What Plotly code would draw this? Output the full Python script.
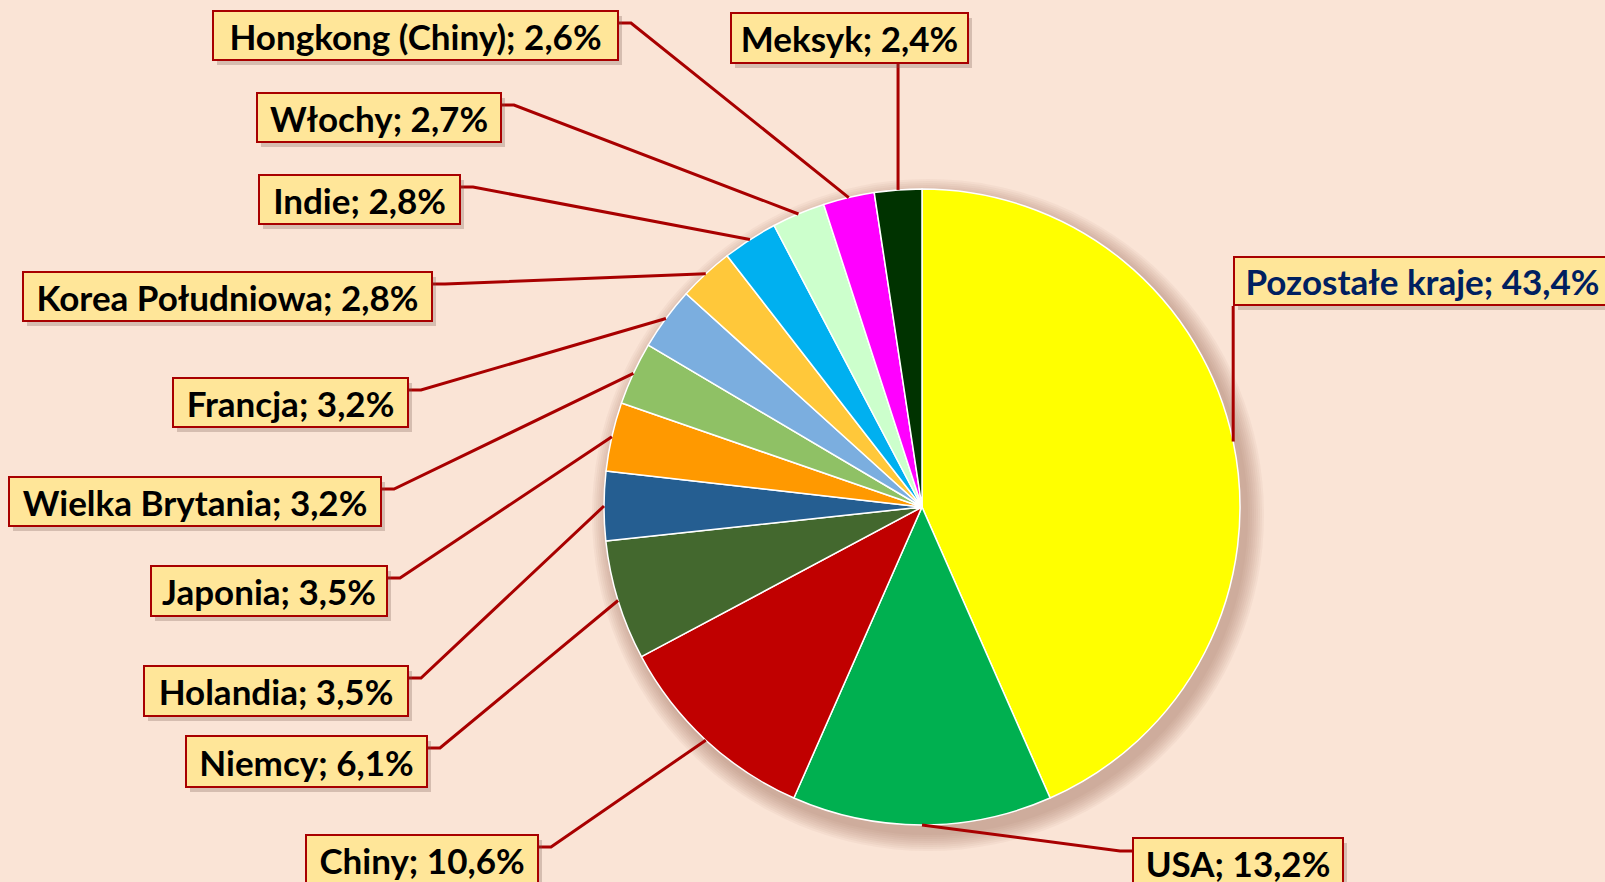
import math
import plotly.graph_objects as go

W, H = 1605, 882

# dane: udział w światowym eksporcie
countries = ["Pozostałe kraje", "USA", "Chiny", "Niemcy", "Holandia", "Japonia",
             "Wielka Brytania", "Francja", "Korea Południowa", "Indie", "Włochy",
             "Hongkong (Chiny)", "Meksyk"]
shares = [43.4, 13.2, 10.6, 6.1, 3.5, 3.5, 3.2, 3.2, 2.8, 2.8, 2.7, 2.6, 2.4]
colors = ["#FFFF00", "#00B050", "#C00000", "#43682E", "#255E91", "#FF9900",
          "#8FC165", "#7BAEDF", "#FFC83A", "#00B0F0", "#CCFFCC", "#FF00FF", "#003300"]

# ramki etykiet w pikselach: x0, y0, x1, y1, skąd wychodzi linia
boxes = [
    (1233, 256, 1612, 306, "below"),
    (1132, 837, 1344, 889, "left"),
    (305, 834, 539, 886, "right"),
    (185, 735, 428, 788, "right"),
    (143, 665, 409, 717, "right"),
    (150, 565, 388, 617, "right"),
    (8, 476, 382, 527, "right"),
    (172, 377, 409, 428, "right"),
    (22, 271, 433, 322, "right"),
    (258, 174, 461, 225, "right"),
    (256, 92, 502, 143, "right"),
    (212, 10, 619, 61, "right"),
    (730, 12, 969, 64, "below"),
]

BG = "#FAE4D6"
BOX_BG = "#FFE699"
RED = "#A80000"
FONT = "Lato, 'Liberation Sans', sans-serif"
FSIZE = 35

cx, cy, r = 922, 507, 318


def px(x):
    return x / W


def py(y):
    return 1 - y / H


fig = go.Figure()

fig.add_trace(go.Pie(
    values=shares,
    labels=countries,
    sort=False,
    direction="clockwise",
    rotation=0,
    marker=dict(colors=colors, line=dict(color="white", width=1.5)),
    textinfo="none",
    hovertemplate="%{label}: %{value}%<extra></extra>",
    domain=dict(x=[px(cx - r), px(cx + r)], y=[py(cy + r), py(cy - r)]),
    showlegend=False,
))

shapes = []
# miękki cień pod kołem
for k in range(9):
    rr = r + 18 - k * 2
    shapes.append(dict(
        type="circle", xref="paper", yref="paper", layer="below",
        x0=px(cx + 6 - rr), x1=px(cx + 6 + rr),
        y0=py(cy + 8 + rr), y1=py(cy + 8 - rr),
        fillcolor="rgba(150,110,90,0.06)", line=dict(width=0),
    ))

annotations = []
total = sum(shares)
cum = 0.0
for name, val, (x0, y0, x1, y1, side) in zip(countries, shares, boxes):
    mid = (cum + val / 2) / total * 2 * math.pi
    cum += val
    ex = cx + r * math.sin(mid)
    ey = cy - r * math.cos(mid)

    if side == "right":
        sy = y0 + 13
        path = f"M {px(x1)},{py(sy)} L {px(x1 + 12)},{py(sy)} L {px(ex)},{py(ey)}"
    elif side == "left":
        sy = y0 + 14
        path = f"M {px(x0)},{py(sy)} L {px(x0 - 12)},{py(sy)} L {px(ex)},{py(ey)}"
    else:
        path = f"M {px(ex)},{py(y1)} L {px(ex)},{py(ey)}"
    shapes.append(dict(type="path", xref="paper", yref="paper", path=path,
                       line=dict(color=RED, width=3), layer="above"))

    label = f"{name}; {val:.1f}%".replace(".", ",")
    bw = 2
    common = dict(
        xref="paper", yref="paper", xanchor="center", yanchor="middle",
        showarrow=False, width=(x1 - x0) - 2 * bw, height=(y1 - y0) - 2 * bw,
        borderpad=0, borderwidth=bw, align="center",
    )
    # cień ramki
    annotations.append(dict(
        x=px((x0 + x1) / 2 + 4), y=py((y0 + y1) / 2 + 5), text=label,
        font=dict(family=FONT, size=FSIZE, color="rgba(0,0,0,0)", weight="bold"),
        bgcolor="rgba(120,90,80,0.28)", bordercolor="rgba(0,0,0,0)", **common,
    ))
    annotations.append(dict(
        x=px((x0 + x1) / 2), y=py((y0 + y1) / 2), text=label,
        font=dict(family=FONT, size=FSIZE, weight="bold",
                  color="#002060" if name == "Pozostałe kraje" else "black"),
        bgcolor=BOX_BG, bordercolor=RED, **common,
    ))

fig.update_layout(
    width=W, height=H,
    margin=dict(l=0, r=0, t=0, b=0),
    paper_bgcolor=BG,
    plot_bgcolor=BG,
    shapes=shapes,
    annotations=annotations,
)

fig.write_html("out.html", config={"displayModeBar": False},
               post_script="document.body.style.margin='0';")
